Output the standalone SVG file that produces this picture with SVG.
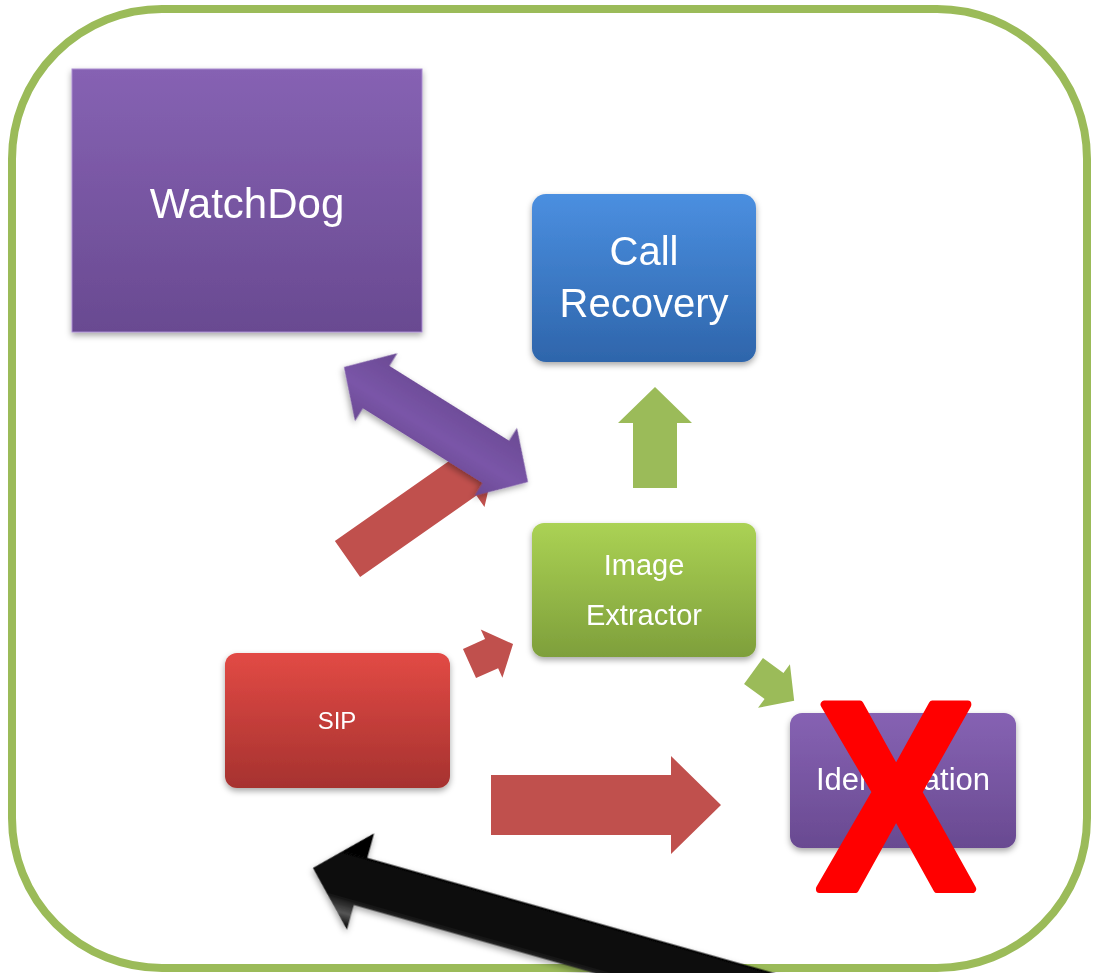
<svg xmlns="http://www.w3.org/2000/svg" width="1096" height="973" viewBox="0 0 1096 973">
<defs>
<style>
.lbl{font-family:"Liberation Sans",Arial,sans-serif;fill:#ffffff;text-anchor:middle}
.node{filter:url(#sh)}
</style>
<filter id="sh" x="-20%" y="-20%" width="140%" height="150%"><feDropShadow dx="0" dy="3" stdDeviation="3" flood-color="#000" flood-opacity="0.35"/></filter>
<linearGradient id="gPur" x1="0" y1="0" x2="0" y2="1"><stop offset="0" stop-color="#8662b3"/><stop offset="1" stop-color="#694a91"/></linearGradient>
<linearGradient id="gBlu" x1="0" y1="0" x2="0" y2="1"><stop offset="0" stop-color="#4b8fe0"/><stop offset="1" stop-color="#2e65ab"/></linearGradient>
<linearGradient id="gGrn" x1="0" y1="0" x2="0" y2="1"><stop offset="0" stop-color="#abd254"/><stop offset="1" stop-color="#7e9f3b"/></linearGradient>
<linearGradient id="gRed" x1="0" y1="0" x2="0" y2="1"><stop offset="0" stop-color="#e24a45"/><stop offset="1" stop-color="#a6322f"/></linearGradient>
<linearGradient id="gPArr" x1="0" y1="0" x2="0" y2="1"><stop offset="0" stop-color="#6a4a93"/><stop offset="0.6" stop-color="#7a55a8"/><stop offset="1" stop-color="#6a4a93"/></linearGradient>
<linearGradient id="gBlk" x1="0" y1="0" x2="0" y2="1"><stop offset="0" stop-color="#000"/><stop offset="0.7" stop-color="#111"/><stop offset="0.85" stop-color="#555"/><stop offset="1" stop-color="#000"/></linearGradient>
</defs>
<rect x="12" y="9" width="1075" height="959" rx="150" ry="150" fill="#ffffff" stroke="#9bbb59" stroke-width="8"/>
<g id="watchdog" class="node"><rect x="72" y="69" width="350" height="263" fill="url(#gPur)" stroke="#a98cd0" stroke-width="1"/><text class="lbl" x="247" y="218" font-size="42">WatchDog</text></g>
<g id="callrecovery" class="node"><rect x="532" y="194" width="224" height="168" rx="14" fill="url(#gBlu)"/><text class="lbl" x="644" y="265" font-size="40">Call</text><text class="lbl" x="644" y="317" font-size="40">Recovery</text></g>
<g id="imageextractor" class="node"><rect x="532" y="523" width="224" height="134" rx="12" fill="url(#gGrn)"/><text class="lbl" x="644" y="575" font-size="29">Image</text><text class="lbl" x="644" y="625" font-size="29">Extractor</text></g>
<g id="sip" class="node"><rect x="225" y="653" width="225" height="135" rx="12" fill="url(#gRed)"/><text class="lbl" x="337" y="729" font-size="24">SIP</text></g>
<g id="identification" class="node"><rect x="790" y="713" width="226" height="135" rx="12" fill="url(#gPur)"/><text class="lbl" x="903" y="790" font-size="31">Identification</text></g>
<g id="connectors">
<polygon fill="#9bbb59" points="633,488 633,423 618,423 655,387 692,423 677,423 677,488"/>
<polygon fill="#9bbb59" transform="translate(753.5,671) rotate(36.2)" points="0,-16 25.4,-16 25.4,-27 50.4,0 25.4,27 25.4,16 0,16"/>
<polygon fill="#c0504d" transform="translate(469.5,663.5) rotate(-24.1)" points="0,-16 24.2,-16 24.2,-26.5 47.7,0 24.2,26.5 24.2,16 0,16"/>
<polygon fill="#c0504d" points="491,775 671,775 671,756 721,805 671,854 671,835 491,835"/>
<polygon fill="#c0504d" transform="translate(347.5,559) rotate(-35)" points="0,-22 142,-22 142,-36 182,0 142,36 142,22 0,22"/>
<polygon fill="url(#gPArr)" filter="url(#sh)" transform="translate(436,424.5) rotate(32)" points="-108.5,0 -70.5,-40 -70.5,-25 70.5,-25 70.5,-40 108.5,0 70.5,40 70.5,25 -70.5,25 -70.5,40"/>
<polygon fill="url(#gBlk)" filter="url(#sh)" transform="translate(313,868) rotate(15.8)" points="0,0 49.4,-50 49.4,-24.6 600,-24.6 600,24.6 49.4,24.6 49.4,50"/>
</g>
<text x="0" y="0" transform="translate(896,889) scale(0.88,1)" font-family="Liberation Sans,Arial,sans-serif" font-weight="bold" font-size="268" fill="#ff0000" stroke="#ff0000" stroke-width="8" stroke-linejoin="round" text-anchor="middle">X</text>
</svg>
